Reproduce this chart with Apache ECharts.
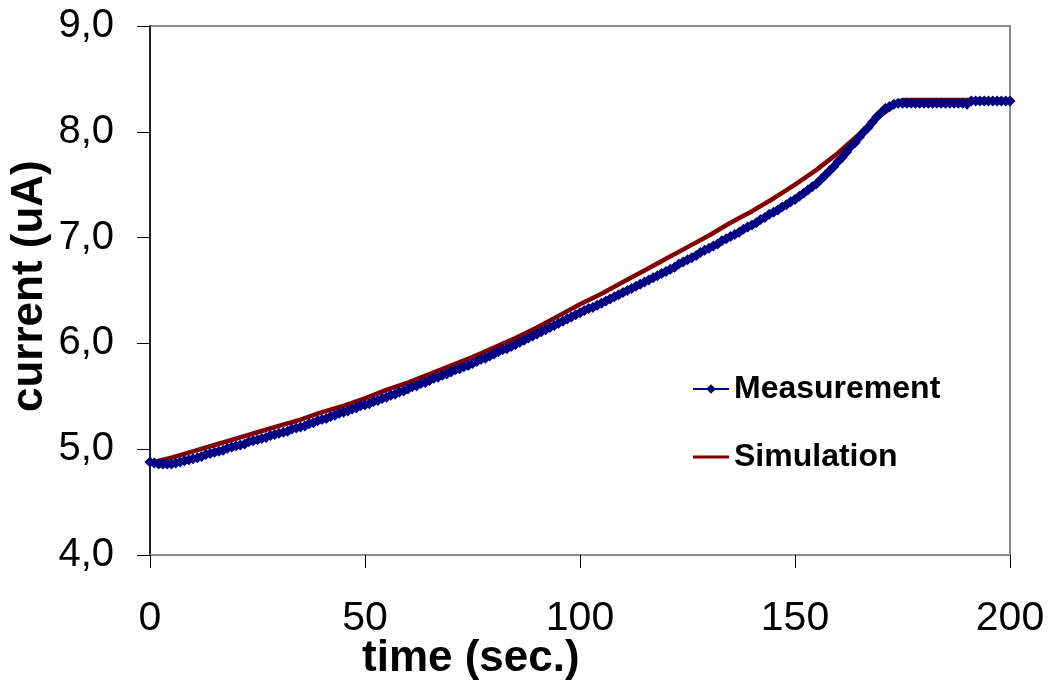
<!DOCTYPE html>
<html>
<head>
<meta charset="utf-8">
<script src="https://cdn.jsdelivr.net/npm/echarts@6/dist/echarts.min.js"></script>
<style>
html,body{margin:0;padding:0;background:#fff;}
#chart{width:1050px;height:681px;}
</style>
</head>
<body>
<div id="chart"></div>
<script>
// ---- data ----
var xTicks = [0, 50, 100, 150, 200];
var yTicks = ['4,0', '5,0', '6,0', '7,0', '8,0', '9,0'];

var measTime = [
0,1,2,3,4,5,6,7,8,9,
10,11,12,13,14,15,16,17,18,19,
20,21,22,23,24,25,26,27,28,29,
30,31,32,33,34,35,36,37,38,39,
40,41,42,43,44,45,46,47,48,49,
50,51,52,53,54,55,56,57,58,59,
60,61,62,63,64,65,66,67,68,69,
70,71,72,73,74,75,76,77,78,79,
80,81,82,83,84,85,86,87,88,89,
90,91,92,93,94,95,96,97,98,99,
100,101,102,103,104,105,106,107,108,109,
110,111,112,113,114,115,116,117,118,119,
120,121,122,123,124,125,126,127,128,129,
130,131,132,133,134,135,136,137,138,139,
140,141,142,143,144,145,146,147,148,149,
150,151,152,153,154,155,156,157,158,159,
160,161,162,163,164,165,166,167,168,169,
170,171,172,173,174,175,176,177,178,179,
180,181,182,183,184,185,186,187,188,189,
190,191,192,193,194,195,196,197,198,199,
200];
var measCurrent = [
4.88,4.87,4.86,4.86,4.86,4.86,4.87,4.88,4.89,4.90,
4.91,4.92,4.93,4.95,4.96,4.97,4.98,4.99,5.01,5.02,
5.03,5.04,5.05,5.07,5.08,5.09,5.10,5.11,5.13,5.14,
5.15,5.16,5.17,5.19,5.20,5.21,5.22,5.24,5.25,5.27,
5.28,5.29,5.31,5.32,5.34,5.35,5.36,5.38,5.39,5.41,
5.42,5.43,5.45,5.46,5.48,5.49,5.51,5.52,5.54,5.55,
5.57,5.59,5.60,5.62,5.63,5.65,5.67,5.68,5.70,5.71,
5.73,5.75,5.76,5.78,5.79,5.81,5.83,5.85,5.86,5.88,
5.90,5.92,5.94,5.95,5.97,5.99,6.01,6.03,6.05,6.07,
6.09,6.11,6.13,6.15,6.17,6.19,6.21,6.23,6.25,6.27,
6.29,6.31,6.33,6.34,6.36,6.38,6.40,6.42,6.44,6.46,
6.48,6.50,6.52,6.54,6.56,6.58,6.60,6.62,6.64,6.66,
6.68,6.70,6.72,6.75,6.77,6.79,6.81,6.83,6.86,6.88,
6.90,6.92,6.94,6.97,6.99,7.01,7.03,7.05,7.08,7.10,
7.12,7.14,7.17,7.19,7.22,7.24,7.26,7.29,7.31,7.34,
7.36,7.39,7.42,7.45,7.48,7.51,7.55,7.59,7.63,7.67,
7.72,7.76,7.81,7.86,7.90,7.95,8.00,8.04,8.09,8.14,
8.18,8.22,8.24,8.26,8.27,8.27,8.27,8.27,8.27,8.27,
8.27,8.27,8.27,8.27,8.27,8.27,8.27,8.27,8.27,8.27,
8.26,8.29,8.29,8.29,8.29,8.29,8.29,8.29,8.29,8.29,
8.29];

var simTime = [0,5,10,15,20,25,30,35,40,45,50,55,60,65,70,75,80,85,90,95,100,
105,110,115,120,125,130,135,140,145,150,155,160,165,170,175,180,185,190,195,200];
var simCurrent = [4.87,4.92,4.98,5.04,5.10,5.16,5.22,5.28,5.35,5.41,5.48,5.56,5.63,5.71,5.79,5.87,5.96,6.05,6.15,6.26,6.37,
6.47,6.58,6.69,6.80,6.91,7.02,7.14,7.25,7.37,7.50,7.64,7.80,7.98,8.16,8.30,8.30,8.30,8.30,8.30,8.30];

var seriesNames = ['Measurement', 'Simulation'];

function pairs(xs, ys) { return xs.map(function (x, i) { return [x, ys[i]]; }); }

var FONT = "'Liberation Sans', Arial, sans-serif";
var chart = echarts.init(document.getElementById('chart'), null, {renderer: 'canvas'});
chart.setOption({
  animation: false,
  backgroundColor: '#ffffff',
  grid: {left: 150, right: 40, top: 26, bottom: 126, show: true, borderColor: '#8c8c8c', borderWidth: 2, backgroundColor: 'transparent'},
  xAxis: {
    type: 'value', min: xTicks[0], max: xTicks[xTicks.length - 1], interval: 50,
    axisLine: {show: true, onZero: false, lineStyle: {color: '#8c8c8c', width: 2}},
    axisTick: {show: true, length: 13, inside: false, lineStyle: {color: '#000', width: 1}},
    axisLabel: {margin: 43, color: '#000', fontSize: 41, fontFamily: FONT},
    splitLine: {show: false}
  },
  yAxis: {
    type: 'value', min: 4, max: 9, interval: 1,
    axisLine: {show: true, onZero: false, lineStyle: {color: '#000', width: 1.5}},
    axisTick: {show: true, length: 13, inside: false, lineStyle: {color: '#000', width: 1}},
    axisLabel: {margin: 36, color: '#000', fontSize: 40, fontFamily: FONT,
      formatter: function (v) { return yTicks[Math.round(v - 4)]; }},
    splitLine: {show: false}
  },
  legend: {
    orient: 'vertical', left: 687, top: 367,
    data: [
      {name: seriesNames[0]},
      {name: seriesNames[1], icon: 'path://M0,0L0,0M0,4.5H36V7.5H0ZM0,12L0,12', itemStyle: {color: '#800000', borderWidth: 0}}
    ],
    itemWidth: 36, itemHeight: 12, itemGap: 34, itemTextGap: 8,
    textStyle: {fontSize: 32, fontWeight: 'bold', color: '#000', fontFamily: FONT, lineHeight: 34}
  },
  graphic: [
    {type: 'text', left: 362, top: 637, style: {text: 'time (sec.)', font: "bold 44px 'Liberation Sans', Arial, sans-serif", fill: '#000'}},
    {type: 'text', x: 8, y: 412, rotation: Math.PI / 2, style: {text: 'current (uA)', font: "bold 44px 'Liberation Sans', Arial, sans-serif", fill: '#000'}}
  ],
  series: [
    {
      name: seriesNames[0], type: 'line', z: 3,
      data: pairs(measTime, measCurrent),
      symbol: 'diamond', symbolSize: 11, showSymbol: true,
      itemStyle: {color: '#000080'},
      lineStyle: {color: '#000080', width: 1}
    },
    {
      name: seriesNames[1], type: 'line', z: 2,
      data: pairs(simTime, simCurrent),
      symbol: 'none', showSymbol: false,
      itemStyle: {color: '#800000'},
      lineStyle: {color: '#800000', width: 4.5}
    }
  ]
});
</script>
</body>
</html>
